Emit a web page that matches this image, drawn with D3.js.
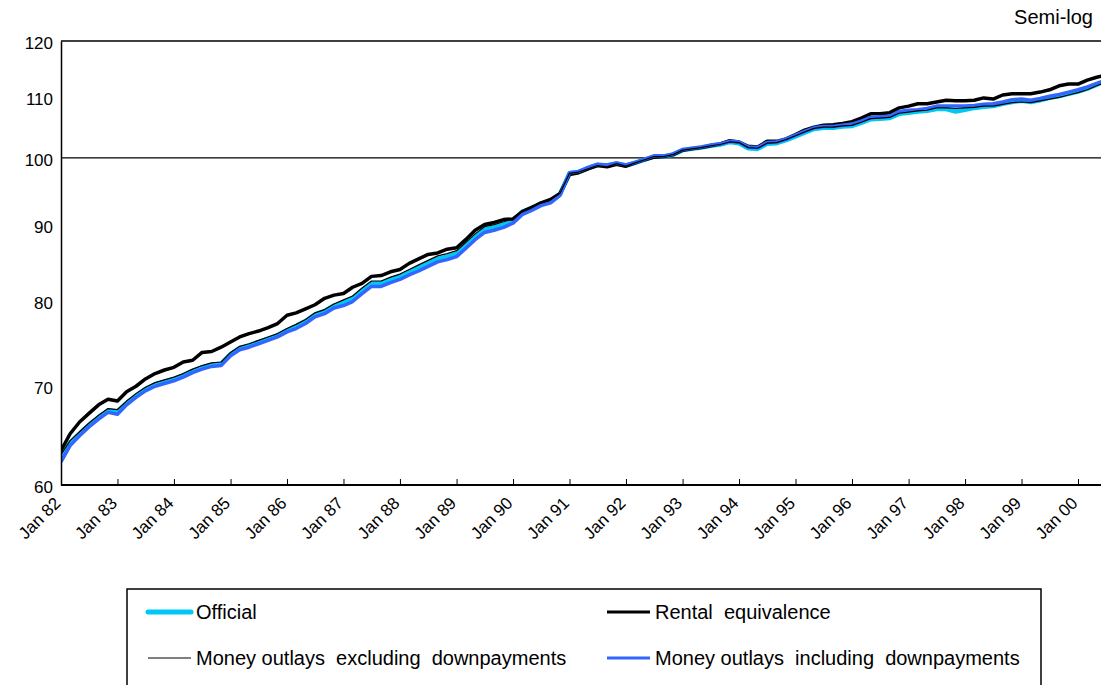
<!DOCTYPE html>
<html>
<head>
<meta charset="utf-8">
<script src="https://cdn.jsdelivr.net/npm/d3@7"></script>
<style>
  body { margin: 0; background: #fff; }
  text { font-family: Arial, "Liberation Sans", sans-serif; fill: #000; }
</style>
</head>
<body>
<div id="chart"></div>
<script>
var width = 1101;
var height = 685;
var margin = {"top": 41, "right": 0, "bottom": 200, "left": 61};

// bi-monthly readings, Jan 82 .. Jul 00
var official = [
  62.7, 64.1, 65.0, 65.9, 66.7, 67.4, 67.3, 68.2, 69.0, 69.7, 70.2, 70.5,
  70.8, 71.2, 71.7, 72.1, 72.4, 72.5, 73.6, 74.3, 74.6, 75.0, 75.4, 75.8,
  76.4, 76.9, 77.5, 78.3, 78.7, 79.4, 79.8, 80.3, 81.3, 82.2, 82.2, 82.7,
  83.1, 83.7, 84.2, 84.8, 85.4, 85.7, 86.1, 87.2, 88.4, 89.4, 89.7, 90.1,
  90.7, 91.9, 92.5, 93.1, 93.5, 94.5,
  97.6, 97.8, 98.4, 98.9, 98.8, 99.1, 98.8, 99.2, 99.7, 100.2, 100.2, 100.5,
  101.2, 101.4, 101.6, 101.9, 102.1, 102.5, 102.3, 101.5, 101.4, 102.2, 102.3, 102.8,
  103.4, 104.0, 104.6, 104.8, 104.8, 105.0,
  105.1, 105.6, 106.2, 106.3, 106.4, 107.1, 107.3, 107.5, 107.6, 107.9, 107.9, 107.5,
  107.8, 108.1, 108.3, 108.4, 108.8, 109.1, 109.3, 109.1, 109.4, 109.8, 110.1, 110.5,
  110.9, 111.4, 112.1, 112.8
];
var rental = [
  63.3, 65.0, 66.2, 67.1, 68.0, 68.6, 68.4, 69.4, 70.0, 70.8, 71.4, 71.8,
  72.1, 72.7, 72.9, 73.8, 73.9, 74.4, 75.0, 75.6, 76.0, 76.3, 76.7, 77.2,
  78.2, 78.5, 79.0, 79.5, 80.3, 80.7, 80.9, 81.7, 82.2, 83.1, 83.2, 83.7,
  84.0, 84.8, 85.4, 86.0, 86.2, 86.7, 86.9, 88.0, 89.3, 90.1, 90.4, 90.8,
  90.9, 91.9, 92.5, 93.2, 93.7, 94.6,
  97.4, 97.7, 98.3, 98.8, 98.6, 99.0, 98.7, 99.2, 99.7, 100.1, 100.2, 100.5,
  101.2, 101.4, 101.6, 101.9, 102.2, 102.7, 102.5, 101.8, 101.7, 102.6, 102.6, 103.0,
  103.7, 104.4, 104.9, 105.2, 105.3, 105.5,
  105.8, 106.4, 107.1, 107.1, 107.3, 108.1, 108.4, 108.8, 108.8, 109.1, 109.4, 109.3,
  109.3, 109.4, 109.8, 109.6, 110.3, 110.5, 110.5, 110.5, 110.8, 111.2, 111.9, 112.2,
  112.2, 112.9, 113.4, 113.8
];
var exclDown = [
  62.9, 64.3, 65.2, 66.1, 66.9, 67.6, 67.5, 68.4, 69.2, 69.9, 70.4, 70.7,
  71.0, 71.4, 71.9, 72.3, 72.6, 72.7, 73.8, 74.5, 74.8, 75.2, 75.6, 76.0,
  76.6, 77.1, 77.7, 78.5, 78.9, 79.6, 80.1, 80.6, 81.6, 82.5, 82.5, 83.0,
  83.4, 84.0, 84.6, 85.2, 85.8, 86.1, 86.5, 87.6, 88.8, 89.8, 90.1, 90.5,
  91.0, 92.1, 92.7, 93.3, 93.7, 94.6,
  97.6, 97.8, 98.3, 98.8, 98.6, 99.1, 98.7, 99.2, 99.7, 100.2, 100.2, 100.5,
  101.2, 101.4, 101.6, 101.9, 102.1, 102.5, 102.4, 101.6, 101.5, 102.3, 102.4, 102.9,
  103.5, 104.1, 104.7, 104.9, 104.9, 105.1,
  105.2, 105.7, 106.3, 106.4, 106.5, 107.2, 107.4, 107.6, 107.7, 108.1, 108.1, 108.0,
  108.1, 108.2, 108.4, 108.4, 108.7, 109.0, 109.1, 109.0, 109.3, 109.6, 109.9, 110.3,
  110.7, 111.2, 111.9, 112.5
];
var inclDown = [
  62.2, 63.8, 64.8, 65.7, 66.5, 67.2, 67.0, 68.0, 68.8, 69.5, 70.0, 70.3,
  70.6, 71.0, 71.5, 71.9, 72.2, 72.3, 73.4, 74.1, 74.4, 74.8, 75.2, 75.6,
  76.2, 76.6, 77.2, 78.0, 78.4, 79.1, 79.4, 79.9, 80.9, 81.8, 81.8, 82.3,
  82.7, 83.3, 83.8, 84.4, 85.0, 85.3, 85.7, 86.8, 88.0, 89.0, 89.3, 89.7,
  90.3, 91.5, 92.1, 92.8, 93.2, 94.3,
  97.7, 97.9, 98.5, 99.0, 98.9, 99.2, 98.9, 99.3, 99.8, 100.3, 100.3, 100.6,
  101.3, 101.5, 101.7, 102.0, 102.2, 102.6, 102.5, 101.7, 101.6, 102.4, 102.5, 103.0,
  103.6, 104.2, 104.8, 105.0, 105.0, 105.2,
  105.4, 105.9, 106.5, 106.6, 106.7, 107.5, 107.7, 107.8, 108.0, 108.4, 108.4, 108.4,
  108.4, 108.5, 108.7, 108.8, 109.1, 109.5, 109.6, 109.4, 109.7, 110.1, 110.4, 110.8,
  111.2, 111.7, 112.3, 112.9
];
var yTicks = [60, 70, 80, 90, 100, 110, 120];
var legendLabels = ["Official", "Rental  equivalence",
  "Money outlays  excluding  downpayments", "Money outlays  including  downpayments"];

var months = official.map(function(d, i){ return new Date(1982, i * 2, 1); });

var series = [
  {"name": legendLabels[0], "values": official, "color": "#00c8f5", "w": 4.5},
  {"name": legendLabels[1], "values": rental, "color": "#000", "w": 3.5},
  {"name": legendLabels[3], "values": inclDown, "color": "#3366ff", "w": 3.5},
  {"name": legendLabels[2], "values": exclDown, "color": "#000", "w": 1.2}
];

var xScale = d3.scaleTime()
  .domain([new Date(1982, 0, 1), new Date(2000, 0, 1)])
  .range([61, 1078]);
var yScale = d3.scaleLog()
  .domain([60, 120])
  .range([485, 41]);

var svg = d3.select("div#chart").append("svg")
  .attr("width", width)
  .attr("height", height);

svg.append("clipPath").attr("id", "plot")
  .append("rect").attr("x", 61).attr("y", 30).attr("width", width - 61).attr("height", 460);

// frame + 100 line
svg.append("line").attr("x1", 61).attr("x2", width).attr("y1", yScale(120)).attr("y2", yScale(120))
  .attr("stroke", "#000").attr("stroke-width", 1.3);
svg.append("line").attr("x1", 61).attr("x2", width).attr("y1", yScale(100)).attr("y2", yScale(100))
  .attr("stroke", "#000").attr("stroke-width", 1.3);

var line = d3.line()
  .x(function(d){ return xScale(d[0]); })
  .y(function(d){ return yScale(d[1]); });

svg.append("g").attr("clip-path", "url(#plot)")
  .selectAll("path")
  .data(series)
  .enter().append("path")
  .attr("d", function(s){ return line(s.values.map(function(v, i){ return [months[i], v]; })); })
  .attr("fill", "none")
  .attr("stroke", function(s){ return s.color; })
  .attr("stroke-width", function(s){ return s.w; })
  .attr("stroke-linejoin", "round");

// axes
var yAxis = d3.axisLeft(yScale)
  .tickValues(yTicks)
  .tickSize(0)
  .tickPadding(8)
  .tickFormat(d3.format("d"));
var gy = svg.append("g")
  .attr("transform", "translate(" + [61, 0] + ")")
  .call(yAxis);
gy.select(".domain").attr("stroke-width", 1.5);
gy.selectAll("text").attr("font-size", 17).attr("dy", "0.45em").style("font-family", "Arial, 'Liberation Sans', sans-serif");

var xAxis = d3.axisBottom(xScale)
  .ticks(d3.timeYear.every(1))
  .tickSizeInner(-6)
  .tickSizeOuter(0)
  .tickFormat(d3.timeFormat("Jan %y"));
var gx = svg.append("g")
  .attr("transform", "translate(" + [0, 485] + ")")
  .call(xAxis);
gx.select(".domain").attr("d", "M61,0H" + width).attr("stroke-width", 2.2);
gx.selectAll("text")
  .attr("font-size", 17)
  .style("font-family", "Arial, 'Liberation Sans', sans-serif")
  .attr("text-anchor", "end")
  .attr("transform", "translate(-4,15) rotate(-45)")
  .attr("x", 0).attr("y", 0).attr("dy", "0.35em");

svg.append("text")
  .attr("x", 1093).attr("y", 24)
  .attr("text-anchor", "end")
  .attr("font-size", 20)
  .text("Semi-log");

// legend
var legend = svg.append("g");
legend.append("rect")
  .attr("x", 127).attr("y", 589).attr("width", 914).attr("height", 120)
  .attr("fill", "none").attr("stroke", "#000").attr("stroke-width", 1.5);
var legendItems = [
  {"s": series[0], "x": 148, "y": 612},
  {"s": series[1], "x": 607, "y": 612},
  {"s": series[3], "x": 148, "y": 658},
  {"s": series[2], "x": 607, "y": 658}
];
var li = legend.selectAll("g.item")
  .data(legendItems)
  .enter().append("g").attr("class", "item")
  .attr("transform", function(d){ return "translate(" + [d.x, d.y] + ")"; });
li.append("line")
  .attr("x1", 0).attr("x2", 43)
  .attr("stroke", function(d){ return d.s.color; })
  .attr("stroke-width", function(d){ return d.s === series[0] ? 5 : (d.s.w < 2 ? 1.2 : 3); })
  .attr("stroke-linecap", function(d){ return d.s === series[0] ? "round" : "butt"; });
li.append("text")
  .attr("x", 48).attr("dy", "0.36em")
  .attr("font-size", 20)
  .style("white-space", "pre")
  .text(function(d){ return d.s.name; });
</script>
</body>
</html>
